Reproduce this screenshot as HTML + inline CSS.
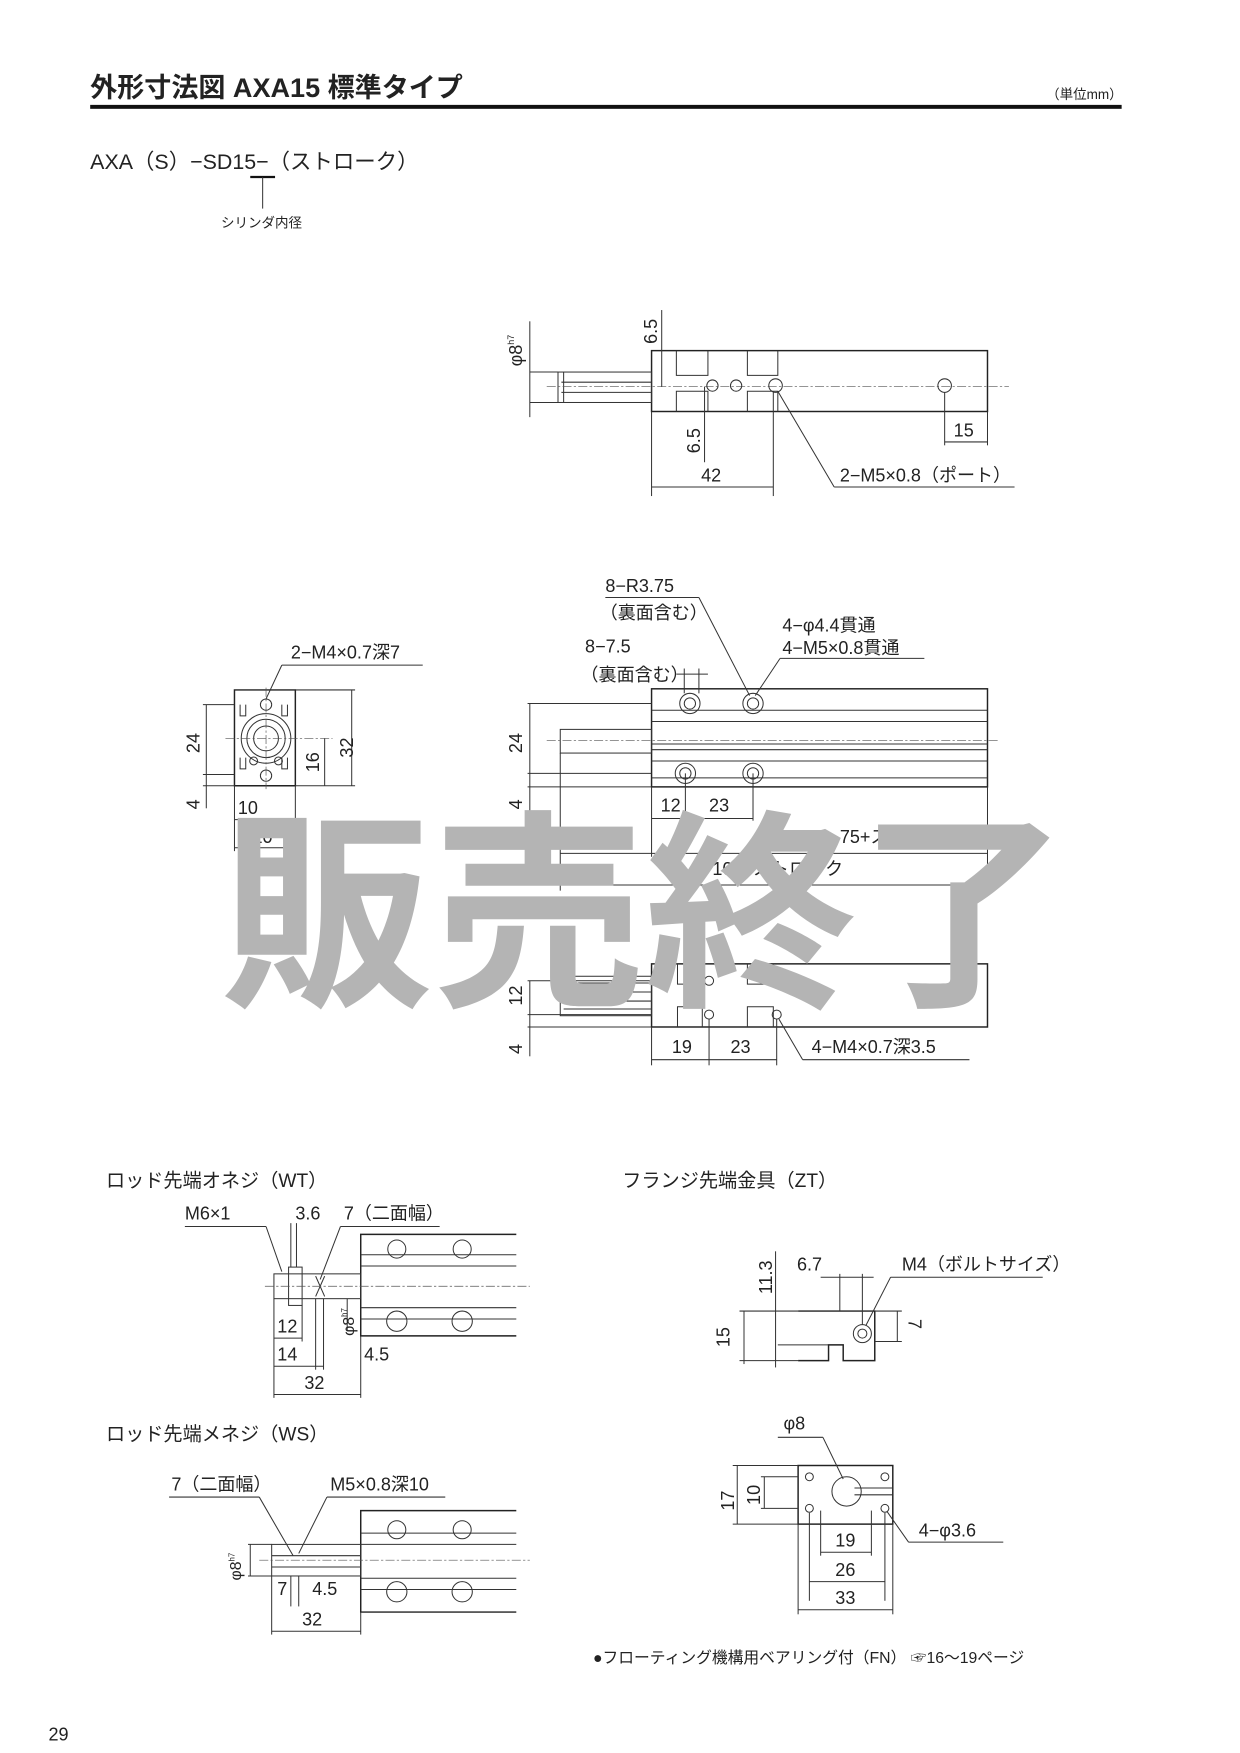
<!DOCTYPE html>
<html><head><meta charset="utf-8"><style>
html,body{margin:0;padding:0;background:#fff}
svg{display:block}
text{font-family:"Liberation Sans","Noto Sans CJK JP",sans-serif;fill:#222}
.t{font-size:16px}
.l{stroke:#333;stroke-width:0.9;fill:none}
.b{stroke:#222;stroke-width:1.3;fill:none}
.c{stroke:#555;stroke-width:0.6;stroke-dasharray:8 2 2 2;fill:none}
</style></head><body>
<svg width="1240" height="1753" viewBox="0 0 1100 1555" xmlns="http://www.w3.org/2000/svg">
<!-- header -->
<text x="80" y="86" style="font-size:24px;font-weight:bold">外形寸法図  AXA15  標準タイプ</text>
<text x="928" y="88" style="font-size:12px">（単位mm）</text>
<rect x="80" y="93" width="915" height="3.5" fill="#111"/>
<text x="80" y="150" style="font-size:19px">AXA（S）−SD15−（ストローク）</text>
<line x1="222" y1="157" x2="244" y2="157" stroke="#111" stroke-width="2"/>
<line x1="233" y1="157" x2="233" y2="185" class="l"/>
<text x="196" y="202" style="font-size:12px">シリンダ内径</text>

<!-- top view -->
<g>
<rect x="578" y="311" width="298" height="54" class="b"/>
<rect x="495" y="330" width="83" height="27" class="l"/>
<line x1="500" y1="330" x2="500" y2="357" class="l"/>
<line x1="498" y1="339" x2="578" y2="339" class="l"/><line x1="498" y1="348" x2="578" y2="348" class="l"/>
<line x1="485" y1="343" x2="895" y2="343" class="c"/>
<path d="M600 311V333H628V311M600 365V347H628V365M663 311V333H690V311M663 365V347H690V365" class="l"/>
<circle cx="632" cy="342" r="5" class="l"/><circle cx="653" cy="342" r="5" class="l"/>
<circle cx="688" cy="342" r="6" class="l"/><circle cx="838" cy="342" r="6" class="l"/>
<line x1="470" y1="285" x2="470" y2="370" class="l"/>
<line x1="470" y1="330" x2="495" y2="330" class="l"/><line x1="470" y1="357" x2="495" y2="357" class="l"/>
<text transform="translate(463,325) rotate(-90)" class="t">φ8<tspan style="font-size:8px" dy="-7">h7</tspan></text>
<line x1="587" y1="275" x2="587" y2="343" class="l"/>
<text transform="translate(583,305) rotate(-90)" class="t">6.5</text>
<line x1="625" y1="343" x2="625" y2="410" class="l"/>
<text transform="translate(621,402) rotate(-90)" class="t">6.5</text>
<line x1="578" y1="365" x2="578" y2="440" class="l"/><line x1="686" y1="348" x2="686" y2="440" class="l"/>
<line x1="578" y1="432" x2="686" y2="432" class="l"/>
<text x="622" y="427" class="t">42</text>
<line x1="838" y1="348" x2="838" y2="395" class="l"/><line x1="876" y1="365" x2="876" y2="395" class="l"/>
<line x1="838" y1="392" x2="876" y2="392" class="l"/>
<text x="846" y="387" class="t">15</text>
<line x1="690" y1="347" x2="740" y2="432" class="l"/><line x1="740" y1="432" x2="900" y2="432" class="l"/>
<text x="745" y="427" class="t">2−M5×0.8（ポート）</text>
</g>

<!-- front view -->
<g>
<path d="M208 612H262V697H208Z" class="b"/>
<path d="M213 625v10h5v-10M255 625v10h-5v-10M213 672v10h5v-10M255 672v10h-5v-10" class="l"/>
<circle cx="236" cy="655" r="22" class="l"/><circle cx="236" cy="655" r="17" class="l"/><circle cx="236" cy="655" r="11" class="l"/>
<circle cx="236" cy="625" r="5" class="l"/><circle cx="236" cy="688" r="5" class="l"/>
<circle cx="225" cy="675" r="3.5" class="l"/><circle cx="247" cy="675" r="3.5" class="l"/>
<line x1="200" y1="655" x2="295" y2="655" class="c"/>
<line x1="236" y1="610" x2="236" y2="700" class="c"/>
<line x1="180" y1="625" x2="208" y2="625" class="l"/><line x1="180" y1="687" x2="208" y2="687" class="l"/><line x1="180" y1="697" x2="208" y2="697" class="l"/>
<line x1="183" y1="625" x2="183" y2="717" class="l"/>
<text transform="translate(177,668) rotate(-90)" class="t">24</text>
<text transform="translate(177,718) rotate(-90)" class="t">4</text>
<line x1="262" y1="612" x2="315" y2="612" class="l"/><line x1="262" y1="697" x2="315" y2="697" class="l"/>
<line x1="312" y1="612" x2="312" y2="697" class="l"/>
<text transform="translate(313,672) rotate(-90)" class="t">32</text>
<line x1="288" y1="655" x2="288" y2="697" class="l"/>
<text transform="translate(283,685) rotate(-90)" class="t">16</text>
<line x1="208" y1="697" x2="208" y2="755" class="l"/><line x1="262" y1="697" x2="262" y2="755" class="l"/>
<line x1="208" y1="727" x2="236" y2="727" class="l"/><line x1="208" y1="752" x2="262" y2="752" class="l"/>
<text x="211" y="722" class="t">10</text>
<text x="224" y="748" class="t">20</text>
<line x1="236" y1="620" x2="250" y2="590" class="l"/><line x1="250" y1="590" x2="375" y2="590" class="l"/>
<text x="258" y="584" class="t">2−M4×0.7深7</text>
</g>

<!-- side view -->
<g>
<rect x="578" y="611" width="298" height="87" class="b"/>
<path d="M578 630H876M578 640H876M578 660H876M578 665H876M578 675H876M578 690H876" class="l" stroke-width="0.6"/>
<rect x="497" y="647" width="81" height="21" class="l"/>
<line x1="485" y1="657" x2="885" y2="657" class="c"/>
<circle cx="612" cy="624" r="9" class="l"/><circle cx="612" cy="624" r="5" class="l"/>
<circle cx="668" cy="624" r="9" class="l"/><circle cx="668" cy="624" r="5" class="l"/>
<circle cx="608" cy="686" r="9" class="l"/><circle cx="608" cy="686" r="5" class="l"/>
<circle cx="668" cy="686" r="9" class="l"/><circle cx="668" cy="686" r="5" class="l"/>
<line x1="468" y1="624" x2="578" y2="624" class="l"/><line x1="468" y1="686" x2="578" y2="686" class="l"/><line x1="468" y1="698" x2="578" y2="698" class="l"/>
<line x1="470" y1="624" x2="470" y2="728" class="l"/>
<text transform="translate(463,668) rotate(-90)" class="t">24</text>
<text transform="translate(463,718) rotate(-90)" class="t">4</text>
<line x1="578" y1="698" x2="578" y2="760" class="l"/><line x1="608" y1="686" x2="608" y2="728" class="l"/><line x1="668" y1="686" x2="668" y2="728" class="l"/>
<line x1="578" y1="726" x2="668" y2="726" class="l"/>
<text x="586" y="720" class="t">12</text><text x="629" y="720" class="t">23</text>
<line x1="497" y1="668" x2="497" y2="790" class="l"/><line x1="876" y1="698" x2="876" y2="790" class="l"/>
<line x1="497" y1="757" x2="876" y2="757" class="l"/><line x1="497" y1="785" x2="876" y2="785" class="l"/>
<text x="528" y="748" class="t">32</text><text x="745" y="748" class="t">75+ストローク</text>
<text x="632" y="776" class="t">107+ストローク</text>
<line x1="607" y1="593" x2="607" y2="615" class="l"/><line x1="620" y1="593" x2="620" y2="615" class="l"/>
<line x1="600" y1="598" x2="628" y2="598" class="l"/>
<text x="519" y="579" class="t">8−7.5</text><text x="515" y="604" class="t">（裏面含む）</text>
<text x="537" y="525" class="t">8−R3.75</text><text x="532" y="549" class="t">（裏面含む）</text>
<line x1="537" y1="530" x2="620" y2="530" class="l"/><line x1="620" y1="530" x2="665" y2="617" class="l"/>
<text x="694" y="560" class="t">4−φ4.4貫通</text><text x="694" y="580" class="t">4−M5×0.8貫通</text>
<line x1="692" y1="584" x2="820" y2="584" class="l"/><line x1="692" y1="584" x2="670" y2="617" class="l"/>
</g>

<!-- bottom view -->
<g>
<rect x="578" y="855" width="298" height="56" class="b"/>
<rect x="497" y="866" width="81" height="35" class="l"/>
<path d="M500 872H578M500 880H578M500 888H578M500 895H578" class="l" stroke-width="0.5"/>
<path d="M601 855V873H623V855M601 911V893H623V893V911M663 855V873H686V855M663 911V893H686V911" class="l"/>
<circle cx="629" cy="870" r="4" class="l"/><circle cx="689" cy="870" r="4" class="l"/>
<circle cx="629" cy="900" r="4" class="l"/><circle cx="689" cy="900" r="4" class="l"/>
<line x1="468" y1="870" x2="578" y2="870" class="l"/><line x1="468" y1="900" x2="578" y2="900" class="l"/><line x1="468" y1="911" x2="578" y2="911" class="l"/>
<line x1="470" y1="870" x2="470" y2="937" class="l"/>
<text transform="translate(463,892) rotate(-90)" class="t">12</text>
<text transform="translate(463,935) rotate(-90)" class="t">4</text>
<line x1="578" y1="911" x2="578" y2="945" class="l"/><line x1="629" y1="904" x2="629" y2="945" class="l"/><line x1="689" y1="904" x2="689" y2="945" class="l"/>
<line x1="578" y1="940" x2="689" y2="940" class="l"/>
<text x="596" y="934" class="t">19</text><text x="648" y="934" class="t">23</text>
<line x1="691" y1="904" x2="712" y2="940" class="l"/><line x1="712" y1="940" x2="860" y2="940" class="l"/>
<text x="720" y="934" class="t">4−M4×0.7深3.5</text>
</g>

<!-- WT -->
<text x="94" y="1053" style="font-size:17px">ロッド先端オネジ（WT）</text>
<g>
<path d="M458 1095H320V1185H458" class="b"/>
<path d="M320 1113H458M320 1123H458M320 1160H458M320 1170H458" class="l" stroke-width="0.6"/>
<circle cx="352" cy="1108" r="8" class="l"/><circle cx="410" cy="1108" r="8" class="l"/>
<circle cx="352" cy="1172" r="9" class="l"/><circle cx="410" cy="1172" r="9" class="l"/>
<rect x="243" y="1130" width="77" height="22" class="l"/>
<rect x="256" y="1124" width="12" height="34" class="l"/>
<line x1="280" y1="1132" x2="288" y2="1150" class="l"/><line x1="288" y1="1132" x2="280" y2="1150" class="l"/>
<line x1="235" y1="1141" x2="470" y2="1141" class="c"/>
<text x="164" y="1082" class="t">M6×1</text><text x="262" y="1082" class="t">3.6</text><text x="305" y="1082" class="t">7（二面幅）</text>
<line x1="164" y1="1088" x2="236" y2="1088" class="l"/><line x1="236" y1="1088" x2="250" y2="1128" class="l"/>
<line x1="302" y1="1088" x2="390" y2="1088" class="l"/><line x1="302" y1="1088" x2="284" y2="1135" class="l"/>
<line x1="258" y1="1085" x2="258" y2="1124" class="l"/><line x1="263" y1="1085" x2="263" y2="1124" class="l"/>
<line x1="243" y1="1152" x2="243" y2="1240" class="l"/><line x1="320" y1="1185" x2="320" y2="1240" class="l"/>
<line x1="268" y1="1158" x2="268" y2="1190" class="l"/><line x1="280" y1="1152" x2="280" y2="1215" class="l"/><line x1="287" y1="1152" x2="287" y2="1215" class="l"/>
<line x1="243" y1="1187" x2="268" y2="1187" class="l"/><line x1="243" y1="1212" x2="287" y2="1212" class="l"/>
<line x1="243" y1="1237" x2="320" y2="1237" class="l"/>
<text x="246" y="1182" class="t">12</text><text x="246" y="1207" class="t">14</text><text x="323" y="1207" class="t">4.5</text><text x="270" y="1232" class="t">32</text>
<line x1="308" y1="1152" x2="308" y2="1180" class="l"/>
<text transform="translate(314,1185) rotate(-90)" style="font-size:14px">φ8<tspan style="font-size:7px" dy="-6">h7</tspan></text>
</g>

<!-- WS -->
<text x="94" y="1278" style="font-size:17px">ロッド先端メネジ（WS）</text>
<g>
<path d="M458 1340H320V1430H458" class="b"/>
<path d="M320 1360H458M320 1370H458M320 1400H458M320 1410H458" class="l" stroke-width="0.6"/>
<circle cx="352" cy="1357" r="8" class="l"/><circle cx="410" cy="1357" r="8" class="l"/>
<circle cx="352" cy="1412" r="9" class="l"/><circle cx="410" cy="1412" r="9" class="l"/>
<rect x="241" y="1370" width="79" height="28" class="l"/>
<line x1="241" y1="1380" x2="320" y2="1380" class="l" stroke-width="0.5"/><line x1="241" y1="1390" x2="320" y2="1390" class="l" stroke-width="0.5"/>
<line x1="230" y1="1384" x2="470" y2="1384" class="c"/>
<line x1="220" y1="1370" x2="241" y2="1370" class="l"/><line x1="220" y1="1398" x2="241" y2="1398" class="l"/>
<line x1="222" y1="1370" x2="222" y2="1398" class="l"/>
<text transform="translate(214,1402) rotate(-90)" style="font-size:14px">φ8<tspan style="font-size:7px" dy="-6">h7</tspan></text>
<text x="152" y="1322" class="t">7（二面幅）</text><text x="293" y="1322" class="t">M5×0.8深10</text>
<line x1="150" y1="1328" x2="230" y2="1328" class="l"/><line x1="230" y1="1328" x2="260" y2="1380" class="l"/>
<line x1="290" y1="1328" x2="395" y2="1328" class="l"/><line x1="290" y1="1328" x2="265" y2="1378" class="l"/>
<line x1="241" y1="1398" x2="241" y2="1450" class="l"/><line x1="320" y1="1430" x2="320" y2="1450" class="l"/>
<line x1="258" y1="1398" x2="258" y2="1425" class="l"/><line x1="265" y1="1398" x2="265" y2="1425" class="l"/>
<line x1="241" y1="1447" x2="320" y2="1447" class="l"/>
<text x="246" y="1415" class="t">7</text><text x="277" y="1415" class="t">4.5</text><text x="268" y="1442" class="t">32</text>
</g>

<!-- ZT -->
<text x="552" y="1053" style="font-size:17px">フランジ先端金具（ZT）</text>
<g>
<path d="M708 1163H776V1207H748V1193H735V1207H708" class="b"/>
<path d="M708 1163H656M708 1207H656M735 1193H690" class="l"/>
<circle cx="765" cy="1183" r="8" class="l"/><circle cx="765" cy="1183" r="4" class="l"/>
<line x1="660" y1="1163" x2="660" y2="1210" class="l"/>
<text transform="translate(647,1195) rotate(-90)" class="t">15</text>
<line x1="688" y1="1110" x2="688" y2="1213" class="l"/>
<text transform="translate(685,1148) rotate(-90)" class="t">11.3</text>
<line x1="745" y1="1130" x2="745" y2="1163" class="l"/><line x1="765" y1="1130" x2="765" y2="1175" class="l"/>
<line x1="728" y1="1133" x2="775" y2="1133" class="l"/>
<text x="707" y="1127" class="t">6.7</text>
<line x1="776" y1="1163" x2="800" y2="1163" class="l"/><line x1="776" y1="1190" x2="800" y2="1190" class="l"/>
<line x1="796" y1="1163" x2="796" y2="1190" class="l"/>
<text transform="translate(806,1170) rotate(90)" class="t">7</text>
<text x="800" y="1127" class="t">M4（ボルトサイズ）</text>
<line x1="790" y1="1133" x2="925" y2="1133" class="l"/><line x1="790" y1="1133" x2="768" y2="1176" class="l"/>

<rect x="708" y="1300" width="84" height="52" class="b"/>
<path d="M758 1320H792M758 1326H792" class="l"/>
<circle cx="751" cy="1323" r="13" class="l"/>
<circle cx="718" cy="1310" r="3.5" class="l"/><circle cx="785" cy="1310" r="3.5" class="l"/>
<circle cx="718" cy="1338" r="3.5" class="l"/><circle cx="785" cy="1338" r="3.5" class="l"/>
<line x1="650" y1="1300" x2="708" y2="1300" class="l"/><line x1="650" y1="1352" x2="708" y2="1352" class="l"/>
<line x1="654" y1="1300" x2="654" y2="1352" class="l"/>
<text transform="translate(651,1340) rotate(-90)" class="t">17</text>
<line x1="675" y1="1310" x2="708" y2="1310" class="l"/><line x1="675" y1="1338" x2="708" y2="1338" class="l"/>
<line x1="678" y1="1310" x2="678" y2="1338" class="l"/>
<text transform="translate(674,1335) rotate(-90)" class="t">10</text>
<text x="695" y="1268" class="t">φ8</text>
<line x1="690" y1="1275" x2="730" y2="1275" class="l"/><line x1="730" y1="1275" x2="748" y2="1312" class="l"/>
<line x1="718" y1="1342" x2="718" y2="1420" class="l"/><line x1="785" y1="1342" x2="785" y2="1420" class="l"/>
<line x1="708" y1="1352" x2="708" y2="1432" class="l"/><line x1="792" y1="1352" x2="792" y2="1432" class="l"/>
<line x1="728" y1="1340" x2="728" y2="1380" class="l"/><line x1="773" y1="1340" x2="773" y2="1380" class="l"/>
<line x1="728" y1="1377" x2="773" y2="1377" class="l"/><line x1="718" y1="1403" x2="785" y2="1403" class="l"/><line x1="708" y1="1428" x2="792" y2="1428" class="l"/>
<text x="741" y="1372" class="t">19</text><text x="741" y="1398" class="t">26</text><text x="741" y="1423" class="t">33</text>
<line x1="787" y1="1341" x2="806" y2="1368" class="l"/><line x1="806" y1="1368" x2="890" y2="1368" class="l"/>
<text x="815" y="1363" class="t">4−φ3.6</text>
</g>

<text x="526" y="1475" style="font-size:14px">●フローティング機構用ベアリング付（FN）   ☞16〜19ページ</text>
<text x="43" y="1544" style="font-size:16px">29</text>

<!-- watermark -->
<text x="196" y="878" style="font-size:188px;font-weight:bold;font-family:'Noto Sans CJK JP',sans-serif;fill:#b4b4b4;letter-spacing:0px">販売終了</text>
</svg>
</body></html>
